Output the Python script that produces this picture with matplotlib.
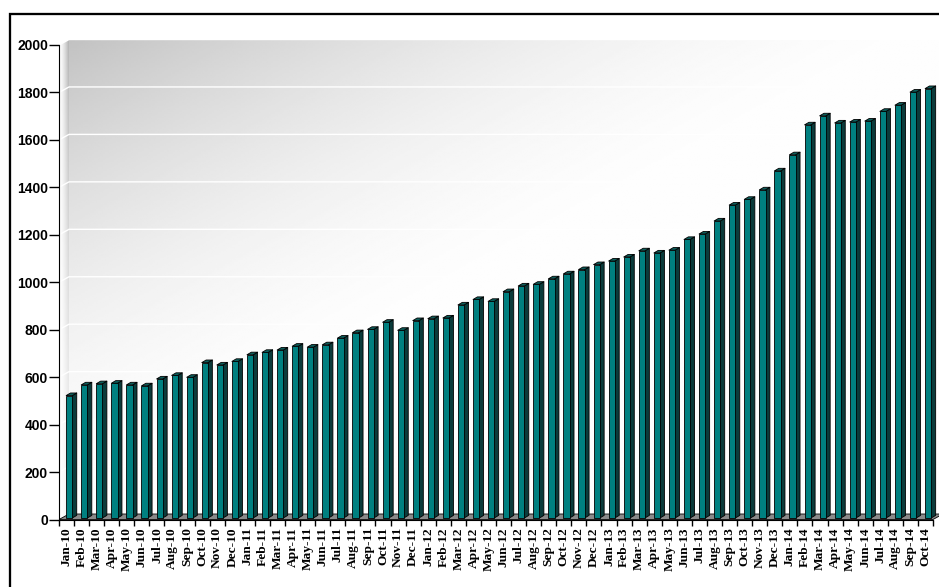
import numpy as np
import matplotlib.pyplot as plt
from matplotlib.collections import PolyCollection
from matplotlib.patches import Polygon, Rectangle

# Data
months = ["Jan", "Feb", "Mar", "Apr", "May", "Jun",
          "Jul", "Aug", "Sep", "Oct", "Nov", "Dec"]
labels = [f"{m}-{y}" for y in range(10, 15) for m in months][:58]
values = [516, 561, 566, 568, 561, 557, 586, 601, 593, 655, 645, 660,
          688, 698, 708, 724, 720, 730, 758, 781, 795, 825, 791, 832,
          840, 843, 898, 921, 913, 954, 978, 985, 1008, 1029, 1047, 1068,
          1083, 1100, 1126, 1117, 1129, 1174, 1197, 1252, 1319, 1343, 1383, 1463,
          1531, 1657, 1695, 1665, 1669, 1673, 1714, 1740, 1795, 1810]
yticks = list(range(0, 2001, 200))

# Figure / 3D geometry in pixels
W, H = 939, 587
fig = plt.figure(figsize=(W / 100, H / 100), dpi=100)

x0_px, x1_px = 59, 933          # front plane of category axis
y0_px, ytop_px = 519.5, 45      # value 0 and value 2000
wall_dx_px, wall_dy_px = 10, 5.5

n = len(values)
slot = (x1_px - x0_px) / n
per_val = (y0_px - ytop_px) / 2000
DX = wall_dx_px / slot
DY = wall_dy_px / per_val

ax = fig.add_axes([x0_px / W, 1 - y0_px / H,
                   (x1_px + wall_dx_px - x0_px) / W,
                   (y0_px - (ytop_px - wall_dy_px)) / H])


def wall_tone(xf, yf):
    s = np.clip(xf + yf, 0, 1)
    return 0.76 + 0.235 * (1 - (1 - s) ** 1.7)


# back wall gradient
X, Y = np.meshgrid(np.linspace(0, 1, 400), np.linspace(0, 1, 250))
ax.imshow(wall_tone(X, Y), cmap="gray", vmin=0, vmax=1, origin="upper",
          aspect="auto", interpolation="bilinear",
          extent=(-0.5 + DX, n - 0.5 + DX, DY, 2000 + DY), zorder=0)

# left side wall
lw_poly = Polygon([(-0.5, 0), (-0.5 + DX, DY), (-0.5 + DX, 2000 + DY), (-0.5, 2000)],
                  facecolor="none", edgecolor="none")
ax.add_patch(lw_poly)
lx, ly = np.meshgrid(np.linspace(0, 1, 20), np.linspace(0, 1, 250))
side_shade = 1 - (1 - wall_tone(0, ly) + 0.06) * lx ** 1.5
side_img = ax.imshow(np.clip(side_shade, 0, 1), cmap="gray", vmin=0, vmax=1,
                     origin="upper", aspect="auto", interpolation="bilinear",
                     extent=(-0.5, -0.5 + DX, 0, 2000 + DY), zorder=0)
side_img.set_clip_path(lw_poly)

# gridlines on the walls
for v in yticks[1:]:
    ax.plot([-0.5, -0.5 + DX, n - 0.5 + DX], [v, v + DY, v + DY],
            color="white", lw=1, zorder=1)

# floor
ax.add_patch(Polygon([(-0.5, 0), (n - 0.5, 0), (n - 0.5 + DX, DY), (-0.5 + DX, DY)],
                     facecolor="#8a8a8a", edgecolor="black", lw=0.6, zorder=2))

# 3D bars
x = np.arange(n)
bw = 6.2 / slot
bshift = 2.7 / slot
lift = 1.5 / per_val
bdx = 4.4 / slot
bdy = 2.6 / per_val
left = x + bshift - bw / 2
right = left + bw
tops = np.array(values) + lift

sides = [[(r, lift), (r + bdx, lift + bdy), (r + bdx, tp + bdy), (r, tp)]
         for r, tp in zip(right, tops)]
caps = [[(l, tp), (r, tp), (r + bdx, tp + bdy), (l + bdx, tp + bdy)]
        for l, r, tp in zip(left, right, tops)]
ax.add_collection(PolyCollection(sides, facecolors="#0b3b3b", edgecolors="black",
                                 linewidths=0.6, zorder=3))
ax.add_collection(PolyCollection(caps, facecolors="#0d5e5b", edgecolors="black",
                                 linewidths=0.6, zorder=3))
ax.bar(x + bshift, values, width=bw, bottom=lift, color="#008080",
       edgecolor="black", linewidth=0.6, zorder=4)

ax.set_xlim(-0.5, n - 0.5 + DX)
ax.set_ylim(0, 2000 + DY)

# axes
for s in ["top", "right"]:
    ax.spines[s].set_visible(False)
ax.spines["left"].set_bounds(0, 2000)
ax.spines["bottom"].set_bounds(-0.5, n - 0.5)
ax.spines["left"].set_zorder(5)
ax.spines["bottom"].set_zorder(5)

ax.set_yticks(yticks)
ax.set_yticklabels([str(v) for v in yticks], fontfamily="Liberation Sans",
                   fontweight="bold", fontsize=10)
ax.tick_params(axis="y", length=7, width=1, pad=1)

ax.set_xticks(x)
ax.set_xticklabels(labels, rotation=90, fontfamily="Liberation Serif",
                   fontweight="bold", fontsize=9.6)
ax.set_xticks(np.arange(n + 1) - 0.5, minor=True)
ax.tick_params(axis="x", which="major", length=0, pad=5.5)
ax.tick_params(axis="x", which="minor", length=4, width=1)

# outer frame
fig.add_artist(Rectangle((10.3 / W, -0.1), 1.2, 1 - 14.2 / H + 0.1,
                         transform=fig.transFigure, fill=False,
                         edgecolor="black", lw=1.65))

fig.savefig("out.png", dpi=100)
